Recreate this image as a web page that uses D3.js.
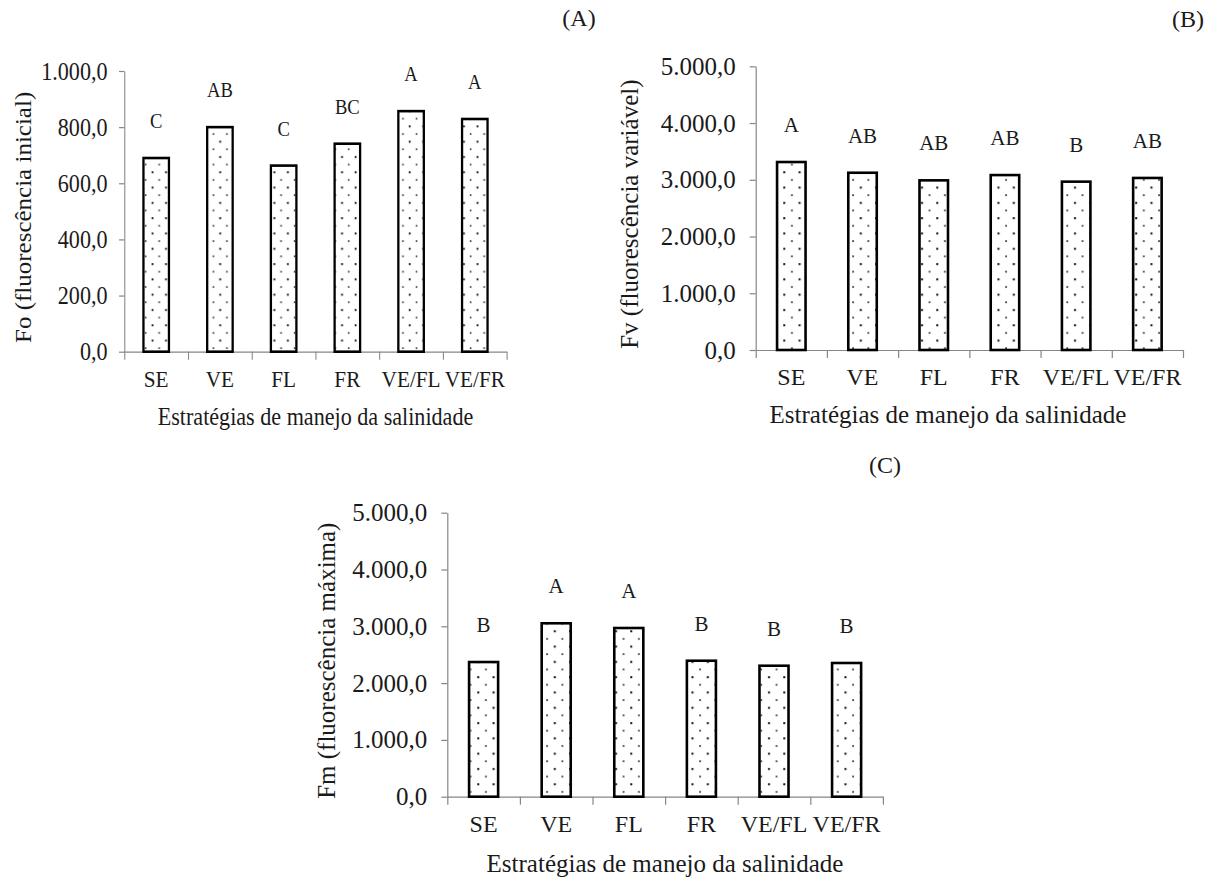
<!DOCTYPE html>
<html lang="pt">
<head>
    <meta charset="UTF-8">
    <title>Fluorescência da clorofila</title>
    <script src="https://d3js.org/d3.v7.min.js"></script>
    <style>
        body {
            margin: 0;
            background: #fff;
        }
        svg text {
            font-family: 'Liberation Serif', 'Times New Roman', serif;
            fill: #1a1a1a;
        }
        .axis path, .axis line {
            stroke: #868686;
            stroke-width: 1.2;
        }
        .bar {
            stroke: #000;
            stroke-width: 2.6;
        }
    </style>
</head>
<body>
    <svg id="viz" width="1215" height="879"></svg>

    <script>
        // Data
        const categories = ["SE", "VE", "FL", "FR", "VE/FL", "VE/FR"];

        const foValues = [690, 800, 663, 741, 857, 829];
        const fvValues = [3313, 3124, 2990, 3083, 2967, 3032];
        const fmValues = [2371, 3053, 2970, 2394, 2306, 2354];

        const foLetters = ["C", "AB", "C", "BC", "A", "A"];
        const fvLetters = ["A", "AB", "AB", "AB", "B", "AB"];
        const fmLetters = ["B", "A", "A", "B", "B", "B"];

        const foTicks = [0, 200, 400, 600, 800, 1000];
        const fTicks = [0, 1000, 2000, 3000, 4000, 5000];

        const xTitle = "Estratégias de manejo da salinidade";

        const serif = "'Liberation Serif', 'Times New Roman', serif";

        const svg = d3.select("#viz");

        // Portuguese number format: 1.000,0
        const ptBR = d3.formatLocale({decimal: ",", thousands: ".", grouping: [3], currency: ["R$", ""]});
        const fmt = ptBR.format(",.1f");

        // Dotted fill pattern, like Excel's 5% pattern
        const defs = svg.append("defs");
        const pat = defs.append("pattern")
            .attr("id", "dots")
            .attr("patternUnits", "userSpaceOnUse")
            .attr("width", 15.3)
            .attr("height", 15.3);
        pat.append("rect").attr("width", 15.3).attr("height", 15.3).attr("fill", "#fff");
        pat.append("rect").attr("x", 3).attr("y", 3).attr("width", 2).attr("height", 2).attr("fill", "#111");
        pat.append("rect").attr("x", 10.7).attr("y", 10.7).attr("width", 1.8).attr("height", 1.8).attr("fill", "#444");

        // panel A is squeezed horizontally in the original figure (sx)
        const panels = [
            {values: foValues, letters: foLetters, ticks: foTicks, max: 1000, sx: 0.885,
             left: 140.5, right: 572.5, top: 71, bottom: 351.7, pad: 13, titleX: 356.5, titleDy: 73,
             yTitle: "Fo (fluorescência inicial)", yTitleX: 26},
            {values: fvValues, letters: fvLetters, ticks: fTicks, max: 5000, sx: 1,
             left: 755.7, right: 1183, top: 66.3, bottom: 350, pad: 14, titleX: 948, titleDy: 73,
             yTitle: "Fv (fluorescência variável)", yTitleX: 629},
            {values: fmValues, letters: fmLetters, ticks: fTicks, max: 5000, sx: 1,
             left: 447.3, right: 882.9, top: 512.7, bottom: 796.7, pad: 14, titleX: 665, titleDy: 75,
             yTitle: "Fm (fluorescência máxima)", yTitleX: 326.5}
        ];

        const tags = [
            {text: "(A)", x: 579, y: 18},
            {text: "(B)", x: 1188, y: 19},
            {text: "(C)", x: 885, y: 465}
        ];

        panels.forEach(p => drawPanel(p));

        svg.selectAll("text.tag")
            .data(tags)
            .join("text")
            .attr("class", "tag")
            .attr("x", d => d.x)
            .attr("y", d => d.y)
            .attr("dy", "0.35em")
            .attr("text-anchor", "middle")
            .style("font-family", serif)
            .style("font-size", "24px")
            .text(d => d.text);

        function drawPanel(p) {
            const g = svg.append("g")
                .attr("transform", `scale(${p.sx},1)`);

            const x = d3.scaleBand()
                .domain(categories)
                .range([p.left, p.right])
                .paddingInner(0.6)
                .paddingOuter(0.3);

            // category boundaries for the tick marks
            const xEdge = d3.scaleLinear()
                .domain([0, categories.length])
                .range([p.left, p.right]);

            const y = d3.scaleLinear()
                .domain([0, p.max])
                .range([p.bottom, p.top]);

            // y axis
            g.append("g")
                .attr("class", "axis")
                .attr("transform", `translate(${p.left},0)`)
                .call(d3.axisLeft(y).tickValues(p.ticks).tickFormat(fmt).tickSize(6).tickSizeOuter(0).tickPadding(p.pad))
                .call(a => a.attr("font-family", serif).attr("font-size", 25))
                .call(a => a.selectAll("text").style("font-family", serif).style("font-size", "25px"));

            // x axis line and boundary ticks
            g.append("g")
                .attr("class", "axis")
                .attr("transform", `translate(0,${p.bottom})`)
                .call(d3.axisBottom(xEdge).tickValues(d3.range(categories.length + 1)).tickFormat("").tickSize(8).tickSizeOuter(0));

            // bars
            g.selectAll("rect.bar")
                .data(p.values)
                .join("rect")
                .attr("class", "bar")
                .attr("x", (d, i) => x(categories[i]))
                .attr("width", x.bandwidth())
                .attr("y", d => y(d))
                .attr("height", d => y(0) - y(d))
                .attr("fill", "url(#dots)");

            // category labels
            g.append("g")
                .attr("transform", `translate(0,${p.bottom})`)
                .call(d3.axisBottom(x).tickSize(0).tickPadding(18))
                .call(a => a.attr("font-family", serif).attr("font-size", 24))
                .call(a => a.select(".domain").remove())
                .call(a => a.selectAll("text").style("font-family", serif).style("font-size", "24px").attr("fill", "#1a1a1a"));

            // significance letters
            g.selectAll("text.letter")
                .data(p.letters)
                .join("text")
                .attr("class", "letter")
                .attr("x", (d, i) => x(categories[i]) + x.bandwidth() / 2)
                .attr("y", (d, i) => y(p.values[i]) - 30)
                .attr("text-anchor", "middle")
                .style("font-family", serif)
                .style("font-size", "21px")
                .text(d => d);

            // axis titles
            g.append("text")
                .attr("x", p.titleX)
                .attr("y", p.bottom + p.titleDy)
                .attr("text-anchor", "middle")
                .style("font-family", serif)
                .style("font-size", "25px")
                .text(xTitle);

            g.append("text")
                .attr("transform", `translate(${p.yTitleX},${(p.top + p.bottom) / 2 + 6}) rotate(-90)`)
                .attr("dy", "0.35em")
                .attr("text-anchor", "middle")
                .style("font-family", serif)
                .style("font-size", "25px")
                .text(p.yTitle);
        }
    </script>
</body>
</html>
